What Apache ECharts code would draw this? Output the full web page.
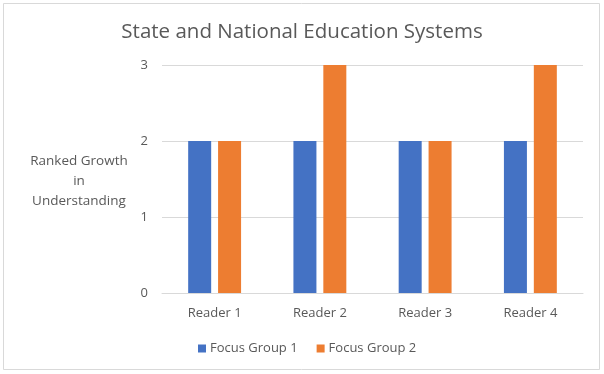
<!DOCTYPE html>
<html><head><meta charset="utf-8">
<script src="https://cdn.jsdelivr.net/npm/echarts@6/dist/echarts.min.js"></script>
<style>html,body{margin:0;padding:0;background:#fff}#c{width:604px;height:374px}</style>
</head><body><div id="c"></div>
<script>
const categories = ["Reader 1", "Reader 2", "Reader 3", "Reader 4"];
const focusGroup1 = [2, 2, 2, 2];
const focusGroup2 = [2, 3, 2, 3];
const yTicks = [0, 1, 2, 3];
const seriesNames = ["Focus Group 1", "Focus Group 2"];

const chart = echarts.init(document.getElementById('c'), null, {renderer: 'canvas'});
const font = '"Open Sans", "Noto Sans", sans-serif';
chart.setOption({
  backgroundColor: '#fff',
  animation: false,
  title: {
    text: 'State and National Education Systems',
    left: 'center', top: 17,
    textStyle: {fontFamily: font, fontSize: 20.5, fontWeight: 'normal', color: '#595959'}
  },
  graphic: [{
    type: 'rect', shape: {x: 3.5, y: 3.5, width: 596, height: 366},
    style: {fill: 'none', stroke: '#d9d9d9', lineWidth: 1}, silent: true
  }, {
    type: 'text', x: 79, y: 181, silent: true,
    style: {text: 'Ranked Growth\nin\nUnderstanding', align: 'center', textAlign: 'center', verticalAlign: 'middle', textVerticalAlign: 'middle', fontFamily: font, fontSize: 13.5, lineHeight: 20, fill: '#595959'}
  }],
  legend: {
    data: seriesNames, top: 342, left: 198, padding: 0,
    itemWidth: 8, itemHeight: 8, itemGap: 19, icon: 'rect',
    textStyle: {fontFamily: font, fontSize: 13, color: '#595959', padding: [0, 0, 0, -1]}
  },
  grid: {left: 162, right: 21, top: 65, bottom: 81},
  xAxis: {
    type: 'category', data: categories,
    axisLine: {lineStyle: {color: '#d9d9d9'}},
    axisTick: {show: false},
    axisLabel: {fontFamily: font, fontSize: 13, color: '#595959', margin: 14}
  },
  yAxis: {
    type: 'value', min: yTicks[0], max: yTicks[yTicks.length - 1], interval: 1,
    axisLine: {show: false}, axisTick: {show: false},
    splitLine: {lineStyle: {color: '#d9d9d9'}},
    axisLabel: {fontFamily: font, fontSize: 13, color: '#595959', margin: 14}
  },
  series: [
    {name: seriesNames[0], type: 'bar', data: focusGroup1, barWidth: 23, barGap: '30%', itemStyle: {color: '#4472c4'}},
    {name: seriesNames[1], type: 'bar', data: focusGroup2, barWidth: 23, itemStyle: {color: '#ed7d31'}}
  ]
});
</script></body></html>
